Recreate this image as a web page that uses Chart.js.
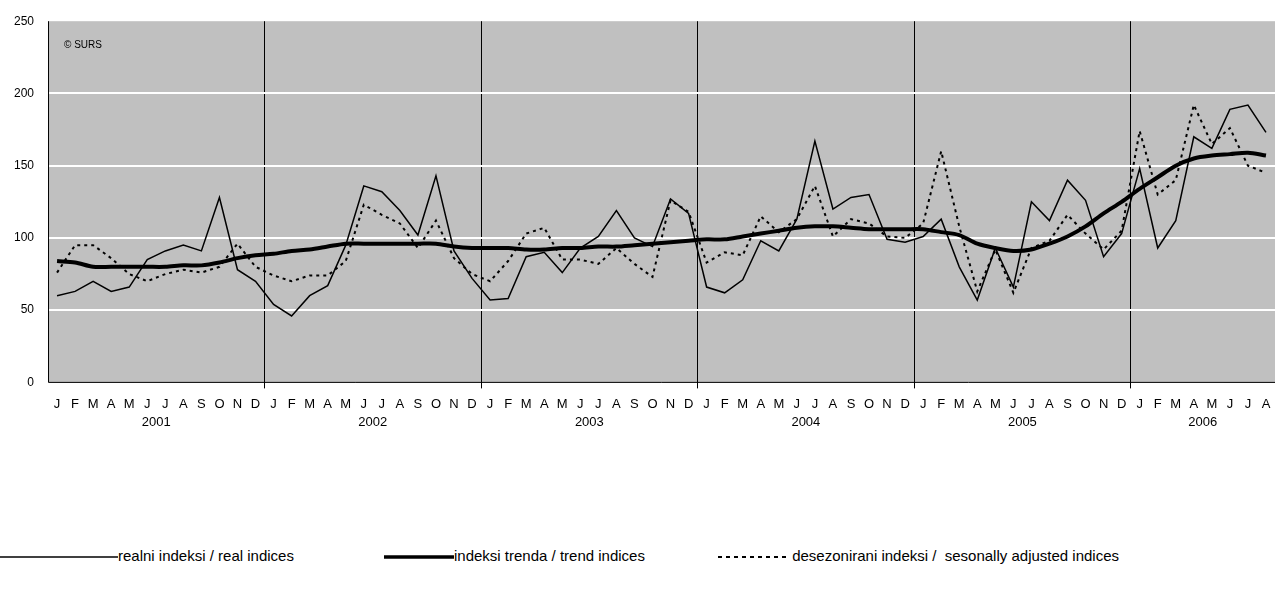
<!DOCTYPE html>
<html>
<head>
<meta charset="utf-8">
<script src="https://cdn.jsdelivr.net/npm/chart.js@4"></script>
<style>
  body { margin: 0; background: #fff; font-family: "Liberation Sans", Arial, sans-serif; }
  #wrap { position: relative; width: 1279px; height: 452px; }
  #legend { position: absolute; top: 547px; left: 0; width: 1279px; font-size: 15px; color: #000; }
  #legend span { position: absolute; white-space: nowrap; }
  #legend svg { vertical-align: middle; }
</style>
</head>
<body>
<div id="wrap"><canvas id="c"></canvas></div>
<div id="legend">
  <span style="left:0px"><svg width="118" height="10"><line x1="0" y1="5" x2="118" y2="5" stroke="#000" stroke-width="1.3"/></svg>realni indeksi / real indices</span>
  <span style="left:384px"><svg width="70" height="10"><line x1="0" y1="5" x2="70" y2="5" stroke="#000" stroke-width="3.5"/></svg>indeksi trenda / trend indices</span>
  <span style="left:718px"><svg width="70" height="10"><line x1="0" y1="5" x2="70" y2="5" stroke="#000" stroke-width="2" stroke-dasharray="4,4"/></svg> desezonirani indeksi /&nbsp; sesonally adjusted indices</span>
</div>
<script>
const monthLetters = ["J","F","M","A","M","J","J","A","S","O","N","D"];
const years = ["2001","2002","2003","2004","2005","2006"];

const realIndices = [
  60, 63, 70, 63, 66, 85, 91, 95, 91, 128, 78, 70,
  54, 46, 60, 67, 95, 136, 132, 119, 102, 143, 91, 72,
  57, 58, 87, 90, 76, 93, 101, 119, 100, 94, 127, 117,
  66, 62, 71, 98, 91, 113, 167, 120, 128, 130, 99, 97,
  101, 113, 80, 57, 93, 66, 125, 112, 140, 126, 87, 103,
  148, 93, 112, 170, 162, 189, 192, 173
];
const trendIndices = [
  84, 83, 80, 80, 80, 80, 80, 81, 81, 83, 86, 88,
  89, 91, 92, 94, 96, 96, 96, 96, 96, 96, 94, 93,
  93, 93, 92, 92, 93, 93, 94, 94, 95, 96, 97, 98,
  99, 99, 101, 103, 105, 107, 108, 108, 107, 106, 106, 106,
  106, 104, 102, 96, 93, 91, 92, 96, 101, 108, 117, 125,
  134, 142, 150, 155, 157, 158, 159, 157
];
const adjustedIndices = [
  76, 95, 95, 86, 75, 70, 75, 78, 76, 80, 96, 80,
  74, 70, 74, 74, 84, 123, 116, 110, 93, 112, 86, 75,
  70, 84, 103, 107, 85, 85, 82, 93, 82, 73, 126, 118,
  83, 90, 88, 115, 104, 113, 136, 101, 113, 110, 101, 100,
  110, 160, 108, 63, 92, 62, 93, 98, 116, 103, 92, 105,
  174, 130, 140, 192, 165, 176, 150, 145
];

const labels = realIndices.map((v, i) => monthLetters[i % 12]);

// grey plot background, years row and copyright note
const decor = {
  id: "decor",
  beforeDraw(chart) {
    const { ctx, chartArea: a } = chart;
    ctx.save();
    ctx.fillStyle = "#c0c0c0";
    ctx.fillRect(a.left, a.top, a.right - a.left, a.bottom - a.top);
    ctx.restore();
  },
  afterDraw(chart) {
    const { ctx, chartArea: a } = chart;
    const x = chart.scales.x;
    ctx.save();
    ctx.fillStyle = "#000";
    ctx.font = "13px 'Liberation Sans', Arial, sans-serif";
    ctx.textAlign = "center";
    ctx.textBaseline = "middle";
    years.forEach((y, i) => {
      const first = i * 12;
      const last = Math.min(first + 11, labels.length - 1);
      const xc = (x.getPixelForValue(first) + x.getPixelForValue(last)) / 2;
      ctx.fillText(y, xc, a.bottom + 40);
    });
    ctx.font = "10px 'Liberation Sans', Arial, sans-serif";
    ctx.textAlign = "left";
    ctx.fillText("© SURS", a.left + 16, a.top + 24);
    // axis lines
    ctx.strokeStyle = "#000";
    ctx.lineWidth = 1;
    ctx.beginPath();
    ctx.moveTo(a.left + 0.5, a.top);
    ctx.lineTo(a.left + 0.5, a.bottom);
    ctx.lineTo(a.right, a.bottom);
    ctx.stroke();
    ctx.restore();
  }
};

new Chart(document.getElementById("c"), {
  type: "line",
  data: {
    labels: labels,
    datasets: [
      { label: "desezonirani indeksi / sesonally adjusted indices", data: adjustedIndices,
        borderColor: "#000", borderWidth: 2, borderDash: [3, 4], pointRadius: 0, tension: 0 },
      { label: "realni indeksi / real indices", data: realIndices,
        borderColor: "#000", borderWidth: 1.5, pointRadius: 0, tension: 0 },
      { label: "indeksi trenda / trend indices", data: trendIndices,
        borderColor: "#000", borderWidth: 4, pointRadius: 0, tension: 0.3 }
    ]
  },
  options: {
    responsive: true,
    maintainAspectRatio: false,
    animation: false,
    layout: { padding: { top: 10, right: 4, bottom: 32, left: 0 } },
    plugins: { legend: { display: false }, tooltip: { enabled: false } },
    scales: {
      x: {
        offset: true,
        grid: {
          offset: true,
          drawTicks: true,
          tickLength: 6,
          color: (c) => (c.index % 12 === 0 && c.index > 0 ? "#000" : "rgba(0,0,0,0)"),
          lineWidth: 1
        },
        border: { display: false },
        ticks: { color: "#000", autoSkip: false, maxRotation: 0, padding: 8,
          font: { size: 13, family: "'Liberation Sans', Arial, sans-serif" } }
      },
      y: {
        min: 0, max: 250,
        grid: { color: (c) => (c.tick.value === 0 || c.tick.value === 250 ? "rgba(0,0,0,0)" : "#fff"),
          lineWidth: 2, drawTicks: false },
        border: { display: false },
        ticks: { stepSize: 50, color: "#000", padding: 14,
          font: { size: 12, family: "'Liberation Sans', Arial, sans-serif" } }
      }
    }
  },
  plugins: [decor]
});
</script>
</body>
</html>
